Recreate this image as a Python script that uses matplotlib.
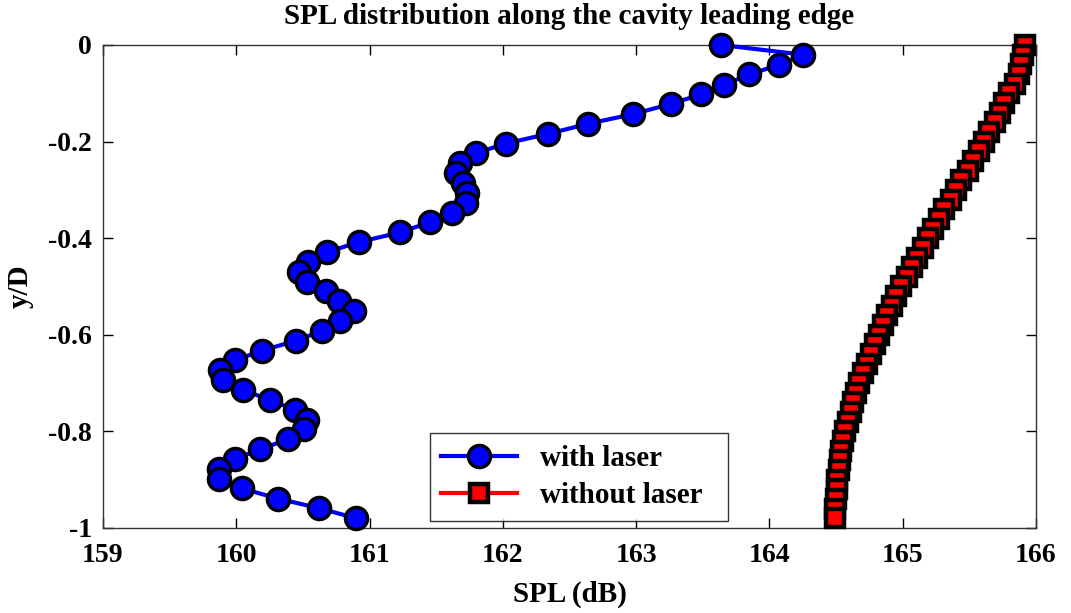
import matplotlib
matplotlib.use('Agg')
import matplotlib.pyplot as plt

# SPL with laser (dB) and y/D positions
spl_laser = [163.64, 164.25, 164.07, 163.85, 163.66, 163.49, 163.26, 162.98, 162.64, 162.34,
             162.02, 161.80, 161.68, 161.65, 161.70, 161.73, 161.72, 161.62, 161.45, 161.23,
             160.92, 160.68, 160.54, 160.47, 160.53, 160.67, 160.77, 160.88, 160.78, 160.64,
             160.45, 160.19, 159.99, 159.88, 159.90, 160.05, 160.25, 160.44, 160.53, 160.51,
             160.39, 160.18, 159.99, 159.87, 159.87, 160.04, 160.31, 160.62, 160.90]
yD_laser = [0.0, -0.020, -0.041, -0.061, -0.082, -0.102, -0.122, -0.143, -0.163, -0.184,
            -0.204, -0.224, -0.245, -0.265, -0.286, -0.306, -0.327, -0.347, -0.367, -0.388,
            -0.408, -0.429, -0.449, -0.469, -0.490, -0.510, -0.531, -0.551, -0.571, -0.592,
            -0.612, -0.633, -0.653, -0.673, -0.694, -0.714, -0.735, -0.755, -0.776, -0.796,
            -0.816, -0.837, -0.857, -0.878, -0.898, -0.918, -0.939, -0.959, -0.980]

# SPL without laser (dB)
spl_nolaser = [165.92, 165.90, 165.89, 165.87, 165.84, 165.80, 165.76, 165.73, 165.69, 165.65,
               165.61, 165.57, 165.53, 165.49, 165.44, 165.40, 165.36, 165.31, 165.27, 165.23,
               165.19, 165.15, 165.11, 165.07, 165.03, 164.99, 164.95, 164.92, 164.88, 164.85,
               164.82, 164.79, 164.76, 164.73, 164.70, 164.67, 164.65, 164.63, 164.61, 164.59,
               164.57, 164.555, 164.54, 164.53, 164.52, 164.51, 164.505, 164.50, 164.49, 164.49]
yD_nolaser = [0.0, -0.02, -0.04, -0.06, -0.08, -0.10, -0.12, -0.14, -0.16, -0.18,
              -0.20, -0.22, -0.24, -0.26, -0.28, -0.30, -0.32, -0.34, -0.36, -0.38,
              -0.40, -0.42, -0.44, -0.46, -0.48, -0.50, -0.52, -0.54, -0.56, -0.58,
              -0.60, -0.62, -0.64, -0.66, -0.68, -0.70, -0.72, -0.74, -0.76, -0.78,
              -0.80, -0.82, -0.84, -0.86, -0.88, -0.90, -0.92, -0.94, -0.96, -0.98]

xticks = [159, 160, 161, 162, 163, 164, 165, 166]
yticks = [0, -0.2, -0.4, -0.6, -0.8, -1]
ytick_labels = ['0', '-0.2', '-0.4', '-0.6', '-0.8', '-1']

plt.rcParams['font.family'] = ['Liberation Serif', 'DejaVu Serif']
plt.rcParams['font.weight'] = 'bold'

fig = plt.figure(figsize=(10.71, 6.13), dpi=100)
ax = fig.add_axes([0.0962, 0.1387, 0.8711, 0.7879])

ax.plot(spl_laser, yD_laser, '-o', color='blue', lw=3, ms=16, mfc='blue', mec='black',
        mew=2.4, label='with laser', clip_on=False, zorder=3)
ax.plot(spl_nolaser, yD_nolaser, '-s', color='red', lw=3, ms=12.5, mfc='red', mec='black',
        mew=3.2, label='without laser', clip_on=False, zorder=4)

ax.set_xlim(159, 166)
ax.set_ylim(-1, 0)
ax.set_xticks(xticks)
ax.set_yticks(yticks)
ax.set_yticklabels(ytick_labels)
ax.tick_params(direction='in', length=7, width=1, top=True, right=True,
               labelsize=20, pad=8, colors='black')
ax.tick_params(axis='x', pad=11)
for s in ax.spines.values():
    s.set_linewidth(1.0)
    s.set_color('#333333')

ax.set_xlabel('SPL (dB)', fontsize=21, fontweight='bold', labelpad=9)
ax.set_ylabel('y/D', fontsize=21, fontweight='bold', labelpad=10)
ax.set_title('SPL distribution along the cavity leading edge', fontsize=21,
             fontweight='bold', pad=15)

leg = ax.legend(loc='lower left', bbox_to_anchor=(0.350, 0.0145, 0.32, 0.193),
                mode='expand', fontsize=21, frameon=True, fancybox=False,
                handlelength=2.6, borderaxespad=0, labelspacing=0.35)
leg.get_frame().set_edgecolor('black')
leg.get_frame().set_linewidth(1.0)

plt.savefig('out.png', dpi=100)
